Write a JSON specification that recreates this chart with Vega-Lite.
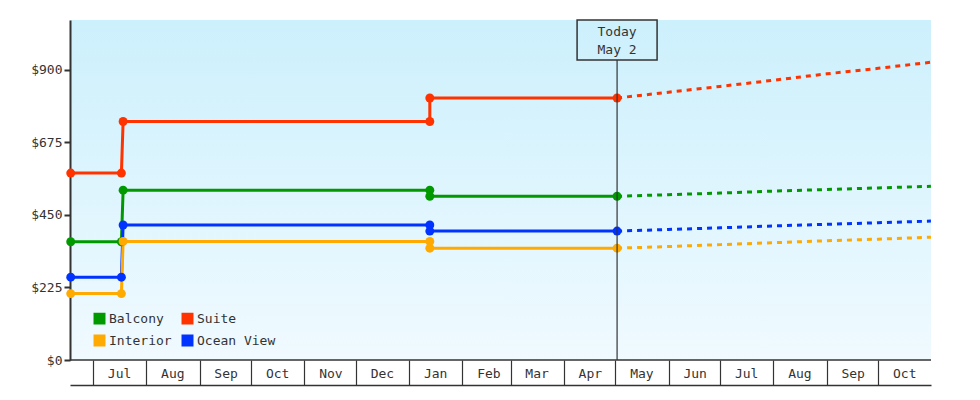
{
  "$schema": "https://vega.github.io/schema/vega-lite/v6.json",
  "width": 861,
  "height": 340,
  "autosize": {"type": "none"},
  "padding": {"left": 70, "top": 20, "right": 49, "bottom": 40},
  "background": "white",
  "config": {
    "view": {"stroke": null, "fill": {"gradient": "linear", "x1": 0, "y1": 0, "x2": 0, "y2": 1, "stops": [{"offset": 0, "color": "#ccf0fc"}, {"offset": 1, "color": "#f0faff"}]}},
    "font": "DejaVu Sans Mono",
    "axis": {"labelFont": "DejaVu Sans Mono", "labelFontSize": 13, "labelColor": "#333333", "domainColor": "#333333", "tickColor": "#333333", "grid": false},
    "legend": {"labelFont": "DejaVu Sans Mono", "labelFontSize": 13, "labelColor": "#333333"}
  },
  "datasets": {
    "prices": [
      {"series": "Suite", "kind": "actual", "seq": 1, "date": "2022-06-18T00:00", "price": 580},
      {"series": "Suite", "kind": "actual", "seq": 2, "date": "2022-07-17T12:00", "price": 580},
      {"series": "Suite", "kind": "actual", "seq": 3, "date": "2022-07-18T12:00", "price": 740},
      {"series": "Suite", "kind": "actual", "seq": 4, "date": "2023-01-13T00:00", "price": 740},
      {"series": "Suite", "kind": "actual", "seq": 5, "date": "2023-01-13T00:00", "price": 813},
      {"series": "Suite", "kind": "actual", "seq": 6, "date": "2023-05-02T00:00", "price": 813},
      {"series": "Balcony", "kind": "actual", "seq": 1, "date": "2022-06-18T00:00", "price": 367},
      {"series": "Balcony", "kind": "actual", "seq": 2, "date": "2022-07-17T12:00", "price": 367},
      {"series": "Balcony", "kind": "actual", "seq": 3, "date": "2022-07-18T12:00", "price": 527},
      {"series": "Balcony", "kind": "actual", "seq": 4, "date": "2023-01-13T00:00", "price": 527},
      {"series": "Balcony", "kind": "actual", "seq": 5, "date": "2023-01-13T00:00", "price": 508},
      {"series": "Balcony", "kind": "actual", "seq": 6, "date": "2023-05-02T00:00", "price": 508},
      {"series": "Ocean View", "kind": "actual", "seq": 1, "date": "2022-06-18T00:00", "price": 257},
      {"series": "Ocean View", "kind": "actual", "seq": 2, "date": "2022-07-17T12:00", "price": 257},
      {"series": "Ocean View", "kind": "actual", "seq": 3, "date": "2022-07-18T12:00", "price": 419},
      {"series": "Ocean View", "kind": "actual", "seq": 4, "date": "2023-01-13T00:00", "price": 419},
      {"series": "Ocean View", "kind": "actual", "seq": 5, "date": "2023-01-13T00:00", "price": 400},
      {"series": "Ocean View", "kind": "actual", "seq": 6, "date": "2023-05-02T00:00", "price": 400},
      {"series": "Interior", "kind": "actual", "seq": 1, "date": "2022-06-18T00:00", "price": 206},
      {"series": "Interior", "kind": "actual", "seq": 2, "date": "2022-07-17T12:00", "price": 206},
      {"series": "Interior", "kind": "actual", "seq": 3, "date": "2022-07-18T12:00", "price": 368},
      {"series": "Interior", "kind": "actual", "seq": 4, "date": "2023-01-13T00:00", "price": 368},
      {"series": "Interior", "kind": "actual", "seq": 5, "date": "2023-01-13T00:00", "price": 347},
      {"series": "Interior", "kind": "actual", "seq": 6, "date": "2023-05-02T00:00", "price": 347},
      {"series": "Suite", "kind": "forecast", "seq": 1, "date": "2023-05-02T00:00", "price": 813},
      {"series": "Suite", "kind": "forecast", "seq": 2, "date": "2023-06-01T00:00", "price": 831},
      {"series": "Suite", "kind": "forecast", "seq": 3, "date": "2023-07-01T00:00", "price": 849},
      {"series": "Suite", "kind": "forecast", "seq": 4, "date": "2023-08-01T00:00", "price": 868},
      {"series": "Suite", "kind": "forecast", "seq": 5, "date": "2023-09-01T00:00", "price": 888},
      {"series": "Suite", "kind": "forecast", "seq": 6, "date": "2023-10-01T00:00", "price": 905},
      {"series": "Suite", "kind": "forecast", "seq": 7, "date": "2023-10-31T16:00", "price": 924},
      {"series": "Balcony", "kind": "forecast", "seq": 1, "date": "2023-05-02T00:00", "price": 508},
      {"series": "Balcony", "kind": "forecast", "seq": 2, "date": "2023-06-01T00:00", "price": 513},
      {"series": "Balcony", "kind": "forecast", "seq": 3, "date": "2023-07-01T00:00", "price": 518},
      {"series": "Balcony", "kind": "forecast", "seq": 4, "date": "2023-08-01T00:00", "price": 524},
      {"series": "Balcony", "kind": "forecast", "seq": 5, "date": "2023-09-01T00:00", "price": 529},
      {"series": "Balcony", "kind": "forecast", "seq": 6, "date": "2023-10-01T00:00", "price": 534},
      {"series": "Balcony", "kind": "forecast", "seq": 7, "date": "2023-10-31T16:00", "price": 539},
      {"series": "Ocean View", "kind": "forecast", "seq": 1, "date": "2023-05-02T00:00", "price": 400},
      {"series": "Ocean View", "kind": "forecast", "seq": 2, "date": "2023-06-01T00:00", "price": 405},
      {"series": "Ocean View", "kind": "forecast", "seq": 3, "date": "2023-07-01T00:00", "price": 410},
      {"series": "Ocean View", "kind": "forecast", "seq": 4, "date": "2023-08-01T00:00", "price": 416},
      {"series": "Ocean View", "kind": "forecast", "seq": 5, "date": "2023-09-01T00:00", "price": 421},
      {"series": "Ocean View", "kind": "forecast", "seq": 6, "date": "2023-10-01T00:00", "price": 426},
      {"series": "Ocean View", "kind": "forecast", "seq": 7, "date": "2023-10-31T16:00", "price": 431},
      {"series": "Interior", "kind": "forecast", "seq": 1, "date": "2023-05-02T00:00", "price": 347},
      {"series": "Interior", "kind": "forecast", "seq": 2, "date": "2023-06-01T00:00", "price": 352},
      {"series": "Interior", "kind": "forecast", "seq": 3, "date": "2023-07-01T00:00", "price": 358},
      {"series": "Interior", "kind": "forecast", "seq": 4, "date": "2023-08-01T00:00", "price": 364},
      {"series": "Interior", "kind": "forecast", "seq": 5, "date": "2023-09-01T00:00", "price": 370},
      {"series": "Interior", "kind": "forecast", "seq": 6, "date": "2023-10-01T00:00", "price": 375},
      {"series": "Interior", "kind": "forecast", "seq": 7, "date": "2023-10-31T16:00", "price": 381}
    ],
    "today": [{"date": "2023-05-02T00:00", "label": "Today\nMay 2"}],
    "baseline": [{"price": 0}]
  },
  "layer": [
    {
      "data": {"name": "prices"},
      "transform": [{"filter": "datum.kind === 'forecast'"}],
      "mark": {"type": "line", "strokeWidth": 3, "strokeDash": [5, 5], "clip": false},
      "encoding": {
        "x": {"field": "date", "type": "temporal",
              "scale": {"domain": [{"year": 2022, "month": 6, "date": 17, "hours": 14}, {"year": 2023, "month": 10, "date": 31, "hours": 17}], "padding": 0, "nice": false},
              "axis": {"orient": "bottom", "offset": 25, "tickCount": {"interval": "month", "step": 1}, "format": "%b", "tickSize": -25, "tickWidth": 1.2,
                       "domainWidth": 1.5, "labelOffset": 26, "labelAlign": "center", "labelBaseline": "middle",
                       "labelPadding": 13, "labelOverlap": false, "labelFlush": false, "labelBound": false, "title": null}},
        "y": {"field": "price", "type": "quantitative",
              "scale": {"domain": [0, 1055], "nice": false},
              "axis": {"orient": "left", "values": [0, 225, 450, 675, 900], "format": "$.0f", "tickSize": 6, "tickWidth": 2,
                       "domainWidth": 2, "labelPadding": 2, "title": null}},
        "color": {"field": "series", "type": "nominal",
                  "scale": {"domain": ["Balcony", "Interior", "Suite", "Ocean View"], "range": ["#009900", "#ffaa00", "#ff3300", "#0033ff"]},
                  "legend": {"title": null, "orient": "none", "legendX": 23, "legendY": 292, "columns": 2,
                             "columnPadding": 7, "rowPadding": 5, "labelOffset": 3, "symbolType": "square", "symbolSize": 110,
                             "encode": {"symbols": {"update": {"fill": {"scale": "color", "field": "value"}, "stroke": {"value": "transparent"}, "shape": {"value": "square"}, "size": {"value": 110}, "opacity": {"value": 1}, "strokeDash": {"value": [1, 0]}}}}}},
        "detail": {"field": "series"},
        "order": {"field": "seq", "type": "quantitative"}
      }
    },
    {
      "data": {"name": "prices"},
      "transform": [{"filter": "datum.kind === 'actual'"}],
      "mark": {"type": "line", "strokeWidth": 3, "clip": false, "point": {"filled": true, "size": 80, "opacity": 1}},
      "encoding": {
        "x": {"field": "date", "type": "temporal"},
        "y": {"field": "price", "type": "quantitative"},
        "color": {"field": "series", "type": "nominal"},
        "order": {"field": "seq", "type": "quantitative"}
      }
    },
    {
      "data": {"name": "baseline"},
      "mark": {"type": "rule", "color": "#333333", "strokeWidth": 1.5},
      "encoding": {
        "y": {"field": "price", "type": "quantitative"}
      }
    },
    {
      "data": {"name": "today"},
      "mark": {"type": "rule", "color": "#333333", "strokeWidth": 1.2},
      "encoding": {
        "x": {"field": "date", "type": "temporal"},
        "y": {"datum": 0, "type": "quantitative"},
        "y2": {"datum": 931}
      }
    },
    {
      "data": {"name": "today"},
      "mark": {"type": "bar", "width": 80, "fillOpacity": 0, "stroke": "#333333", "strokeWidth": 1.5},
      "encoding": {
        "x": {"field": "date", "type": "temporal"},
        "y": {"datum": 931, "type": "quantitative"},
        "y2": {"datum": 1055}
      }
    },
    {
      "data": {"name": "today"},
      "mark": {"type": "text", "lineBreak": "\n", "fontSize": 13, "lineHeight": 18, "baseline": "middle", "align": "center", "color": "#333333", "font": "DejaVu Sans Mono"},
      "encoding": {
        "x": {"field": "date", "type": "temporal"},
        "y": {"datum": 1018, "type": "quantitative"},
        "text": {"field": "label"}
      }
    }
  ]
}
